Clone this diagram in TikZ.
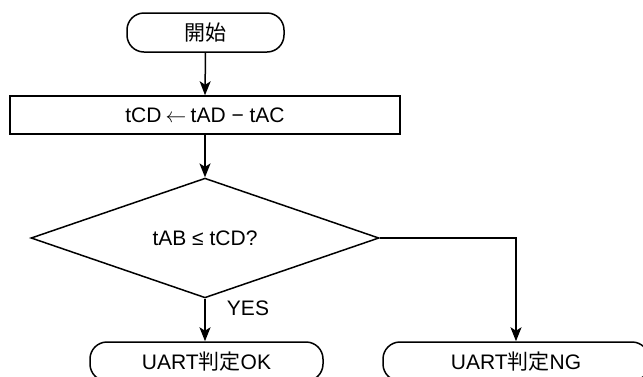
\documentclass[tikz,border=0pt]{standalone}
\usepackage{fontspec}
\setmainfont{Liberation Sans}
\newfontfamily\cjk{Noto Sans CJK JP}
\usetikzlibrary{shapes.geometric,arrows.meta}
\begin{document}
\begin{tikzpicture}[x=1pt,y=-1pt,
  every node/.style={font=\fontsize{21}{25}\selectfont},
  line/.style={line width=1.5pt},
  arr/.style={line, -{Stealth[length=14pt,width=11pt,inset=3.5pt]}},
  term/.style={draw, line width=1.5pt, rounded corners=17pt, minimum height=39pt, inner sep=0pt},
  procbox/.style={draw, line width=1.5pt, minimum height=38pt, inner sep=0pt},
  decbox/.style={draw, diamond, line width=1.5pt, minimum width=348pt, minimum height=114pt, inner sep=0pt}]
\useasboundingbox (0,0) rectangle (643,376);
\clip (0,0) rectangle (643,376);
\node[term, minimum width=157pt] (start) at (205.5,32.5) {{\cjk 開始}};
\node[procbox, minimum width=390pt] (proc) at (205,115) {tCD\hspace{0.2em}$\leftarrow$\hspace{0.2em}tAD − tAC};
\node[decbox] (dec) at (205,238) {tAB ≤ tCD?};
\node[term, minimum width=233pt] (ok) at (206.5,361.5) {UART{\cjk 判定}OK};
\node[term, minimum width=266pt] (ng) at (516,361.5) {UART{\cjk 判定}NG};
\node (yes) at (248,308) {YES};
\draw[arr] (start.south) -- (proc.north);
\draw[arr] (proc.south) -- (dec.north);
\draw[arr] (dec.south) -- (dec.south |- ok.north);
\draw[arr] (dec.east) -| (ng.north);
\end{tikzpicture}
\end{document}
